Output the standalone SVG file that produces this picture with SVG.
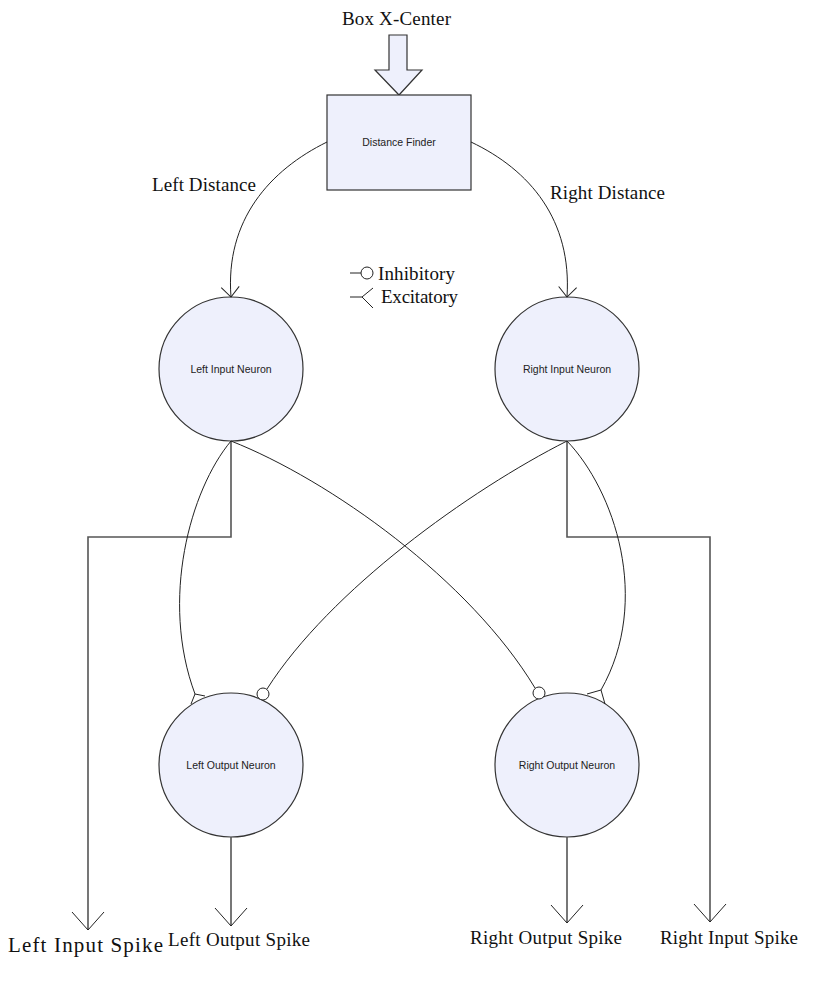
<svg xmlns="http://www.w3.org/2000/svg" width="824" height="991" viewBox="0 0 824 991">
<style>
.node{fill:#eef0fc;stroke:#333;stroke-width:1.2}
.nt{font-family:"Liberation Sans",Arial,sans-serif;font-size:10.5px;fill:#222;text-anchor:middle}
.lbl{font-family:"Liberation Serif","Times New Roman",serif;font-size:19px;fill:#111}
.big{font-size:21px}
.c{fill:none;stroke:#222;stroke-width:1}
.g{fill:none;stroke:#555;stroke-width:1.6}
.s{fill:#fff;stroke:#222;stroke-width:1}
</style>
<defs>
<marker id="ah" markerUnits="userSpaceOnUse" markerWidth="24" markerHeight="24" refX="12" refY="12" orient="auto" overflow="visible">
<path d="M2,3 L12,12 L2,21" fill="none" stroke="#222" stroke-width="1"/>
</marker>
<marker id="ahb" markerUnits="userSpaceOnUse" markerWidth="40" markerHeight="40" refX="20" refY="20" orient="auto" overflow="visible">
<path d="M2,4 L20,20 L2,36" fill="none" stroke="#222" stroke-width="1"/>
</marker>
</defs>

<g id="box-x-center">
<text class="lbl" x="342" y="25" textLength="109">Box X-Center</text>
<polygon points="389,35 407,35 407,70 422,70 399,95 375,70 389,70" class="node"/>
</g>

<g id="distance-finder">
<rect x="327" y="95" width="144" height="95" class="node"/>
<text class="nt" x="399" y="146">Distance Finder</text>
</g>

<g id="left-input-neuron">
<circle cx="231" cy="369" r="72" class="node"/>
<text class="nt" x="231" y="373">Left Input Neuron</text>
</g>
<g id="right-input-neuron">
<circle cx="567" cy="369" r="72" class="node"/>
<text class="nt" x="567" y="373">Right Input Neuron</text>
</g>
<g id="left-output-neuron">
<circle cx="231" cy="765" r="72" class="node"/>
<text class="nt" x="231" y="769">Left Output Neuron</text>
</g>
<g id="right-output-neuron">
<circle cx="567" cy="765" r="72" class="node"/>
<text class="nt" x="567" y="769">Right Output Neuron</text>
</g>

<g id="legend">
<line x1="350" y1="273" x2="361" y2="273" class="c"/>
<circle cx="367" cy="273" r="6" class="s"/>
<text class="lbl" x="378" y="280" textLength="77">Inhibitory</text>
<line x1="350" y1="297" x2="362" y2="297" class="c"/>
<path d="M373,288 L362,297 L373,308" class="c"/>
<text class="lbl" x="381" y="303" textLength="77">Excitatory</text>
</g>

<g id="connectors">
<path d="M327,142 C270,170 225,220 231,297" class="c" marker-end="url(#ah)"/>
<path d="M471,142 C530,170 572,220 567,297" class="c" marker-end="url(#ah)"/>

<polyline points="231,441 231,537 88,537 88,930" class="g" marker-end="url(#ahb)"/>
<polyline points="567,441 567,537 710,537 710,922" class="g" marker-end="url(#ahb)"/>
<line x1="231" y1="837" x2="231" y2="926" class="g" marker-end="url(#ahb)"/>
<line x1="567" y1="837" x2="567" y2="923" class="g" marker-end="url(#ahb)"/>

<path d="M231,441 C190,490 160,600 195,694" class="c"/>
<path d="M191,704 L195,694 L205,696" class="c"/>
<path d="M567,441 C614,490 652,600 601,690" class="c"/>
<path d="M587,694 L601,690 L605,704" class="c"/>

<path d="M231,441 C330,480 470,580 535,688" class="c"/>
<circle cx="539" cy="693" r="6" class="s"/>
<path d="M567,441 C470,490 330,590 267,689" class="c"/>
<circle cx="263" cy="694" r="6" class="s"/>
</g>

<g id="labels">
<text class="lbl" x="152" y="191" textLength="104">Left Distance</text>
<text class="lbl" x="550" y="199" textLength="115">Right Distance</text>
<text class="lbl big" x="8" y="952" textLength="155">Left Input Spike</text>
<text class="lbl" x="168" y="946" textLength="142">Left Output Spike</text>
<text class="lbl" x="470" y="944" textLength="152">Right Output Spike</text>
<text class="lbl" x="660" y="944" textLength="138">Right Input Spike</text>
</g>
</svg>
